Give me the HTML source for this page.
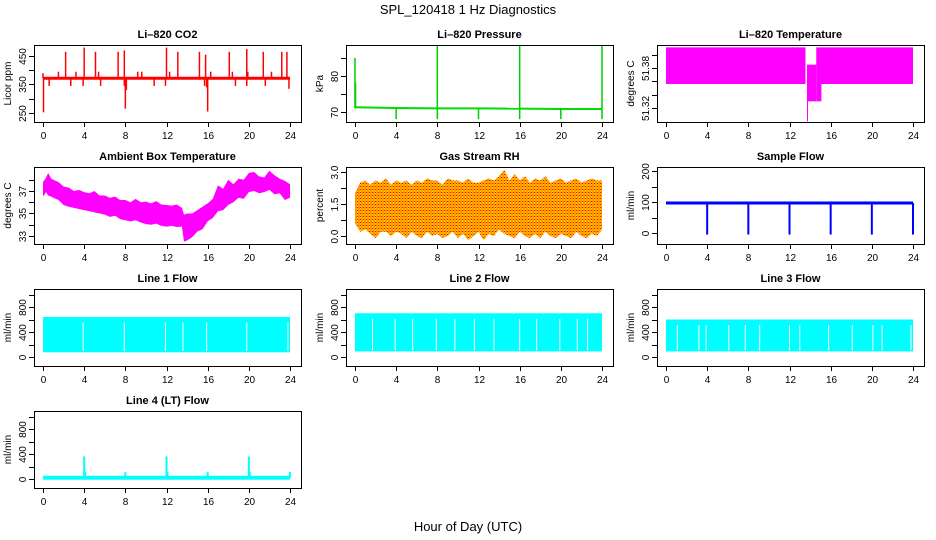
<!DOCTYPE html>
<html><head><meta charset="utf-8"><style>
body{margin:0;background:#fff}
svg{display:block;font-family:"Liberation Sans",sans-serif}
</style></head><body>
<svg id="c" width="936" height="540" viewBox="0 0 936 540">
<defs><pattern id="rhpat" width="3" height="3" patternUnits="userSpaceOnUse"><rect width="3" height="3" fill="#ffcc00"/><rect x="0" y="0" width="1" height="1" fill="#ff0000"/><rect x="1.5" y="1.5" width="1" height="1" fill="#ff0000"/><rect x="1.5" y="0" width="1" height="1" fill="#ff6600"/></pattern></defs>
<text x="468" y="14" text-anchor="middle" font-size="13">SPL_120418  1 Hz Diagnostics</text>
<text x="468" y="531" text-anchor="middle" font-size="13">Hour of Day (UTC)</text>
</svg>
<script>
// ---- data ----
const hourTicks=[0,4,8,12,16,20,24];
const co2Base=372;
const co2SpikeHours=[2.2,4.0,5.1,7.3,7.9,12.0,13.1,15.2,15.8,18.1,19.8,21.4,23.2,23.7,0.0,1.5,3.2,5.4,9.2,9.6,12.3,16.3,18.4,19.9,22.2,0.05,8.0,8.1,16.0,15.9,0.6,2.7,3.9,5.6,7.9,10.8,11.9,15.7,18.7,19.8,21.6,23.9];
const co2SpikeVals=[465,480,465,465,470,480,465,465,455,465,475,465,465,465,390,395,395,395,395,395,395,395,395,395,395,252,265,330,255,340,345,345,345,345,345,345,345,345,345,345,345,335];
const presBaseHours=[0,4,8,12,16,20,24];
const presBaseVals=[71.3,71.1,71.0,71.0,70.9,70.8,70.8];
const presSpikeHours=[0,0.05,8,16,24,4,8,12,16,20,24];
const presSpikeVals=[85,78,88.6,88.6,88.6,68,68,68,68,68,68];
const ltStart=[0,13.7,14.6,14.6];
const ltEnd=[13.55,14.6,24,15.1];
const ltLo=[51.356,51.33,51.356,51.33];
const ltHi=[51.411,51.385,51.411,51.356];
const ltSpikeHour=13.75, ltSpikeVal=51.30;
const ambHours=[0,0.3,0.5,0.8,1,1.5,2,2.5,3,3.5,4,4.5,5,5.5,6,6.5,7,7.5,8,8.5,9,9.5,10,10.5,11,11.5,12,12.5,13,13.5,13.7,14,14.5,15,15.5,16,16.5,17,17.5,18,18.5,19,19.5,20,20.5,21,21.5,22,22.5,23,23.5,24];
const ambUpper=[37.8,38.2,38.6,38.1,38.0,37.8,37.4,37.3,37.0,37.1,36.9,36.8,37.0,36.6,36.6,36.4,36.5,36.2,36.2,36.0,36.3,36.0,36.05,35.9,36.1,35.8,35.75,35.7,35.8,35.5,34.9,35.0,35.0,35.3,35.6,35.9,36.3,37.5,37.2,38.0,37.6,38.1,38.0,38.6,38.7,38.3,38.2,38.8,38.4,38.1,37.9,37.6];
const ambLower=[36.5,36.9,36.6,36.5,36.4,36.2,35.75,35.6,35.5,35.4,35.3,35.2,35.1,35.0,34.9,34.7,34.8,34.5,34.4,34.3,34.4,34.2,34.05,34.0,34.1,33.9,33.83,33.9,33.8,33.83,32.5,32.6,32.9,33.4,33.6,34.3,34.6,35.2,35.3,35.75,36.0,36.4,36.3,36.9,37.0,36.8,36.9,37.1,36.7,36.8,36.2,36.4];
const rhHours=[0,0.5,1,1.5,2,2.5,3,3.5,4,4.5,5,5.5,6,6.5,7,7.5,8,8.5,9,9.5,10,10.5,11,11.5,12,12.5,13,13.5,14,14.5,15,15.5,16,16.5,17,17.5,18,18.5,19,19.5,20,20.5,21,21.5,22,22.5,23,23.5,24];
const rhUpper=[2.0,2.5,2.6,2.4,2.6,2.5,2.7,2.4,2.6,2.5,2.6,2.4,2.6,2.5,2.7,2.6,2.6,2.4,2.7,2.6,2.6,2.5,2.7,2.5,2.5,2.6,2.7,2.6,2.8,3.1,2.6,2.9,2.6,2.8,2.5,2.7,2.6,2.8,2.5,2.6,2.7,2.5,2.6,2.7,2.5,2.6,2.7,2.6,2.6];
const rhLower=[0.6,0.2,0.3,0.1,-0.1,0.2,0.2,0.0,0.2,0.1,-0.1,0.2,0.0,-0.1,0.2,0.0,0.1,-0.1,0.0,0.2,-0.1,0.1,-0.2,0.0,0.2,-0.2,0.1,0.0,0.3,0.1,0.0,-0.1,0.2,0.0,-0.1,0.1,-0.1,0.2,0.0,-0.1,0.1,0.0,-0.1,0.2,0.0,-0.1,0.1,0.0,0.3];
const sfBase=97;
const sfDipHours=[4,8,12,16,20,24];
const sfDipVal=-5;
const l1Lo=75,l1Hi=640;
const l1Gaps=[3.9,7.9,11.9,13.6,15.9,19.8,23.8];
const l2Lo=90,l2Hi=700;
const l2Gaps=[1.7,3.9,5.6,7.9,9.7,11.6,13.5,16.0,17.65,19.9,21.6,22.6];
const l3Lo=90,l3Hi=600;
const l3Gaps=[1.1,3.2,3.9,6.1,7.7,9.1,12.0,13.0,15.8,18.1,20.1,21.0,23.8];
const l4Base=20;
const l4SpikeHours=[4,4.1,8,12,12.1,16,20,20.1,24];
const l4SpikeVals=[360,110,110,360,110,110,360,110,110];

// ---- layout ----
const svg=document.getElementById('c');
const NS='http://www.w3.org/2000/svg';
const colL=[34,346,657], rowT=[45,167,289,411], W=267, H=77;
function el(tag,attrs,parent){const e=document.createElementNS(NS,tag);for(const k in attrs)e.setAttribute(k,attrs[k]);(parent||svg).appendChild(e);return e;}
function panel(c,r,name,title,ylab,ymin,ymax,ticks,labels){
  const g=el('g',{});
  
  
  const x0=colL[c],y0=rowT[r];
  const xs=h=>x0+9+h*(247/24);
  const ys=v=>y0+H-(v-ymin)/(ymax-ymin)*H;
  const t=el('text',{x:x0+W/2,y:y0-7,'text-anchor':'middle','font-size':11,'font-weight':'bold'},g);t.textContent=title;
  
  
  const plot=el('g',{},g);
  const ax=el('g',{stroke:'#000','stroke-width':1,fill:'none'},g);
  el('rect',{x:x0+.5,y:y0+.5,width:W,height:H},ax);
  hourTicks.forEach(h=>{const x=Math.round(xs(h))+.5;el('line',{x1:x,x2:x,y1:y0+H,y2:y0+H+5},ax);
    const tx=el('text',{x:x,y:y0+H+17,'text-anchor':'middle','font-size':10,fill:'#000',stroke:'none'},g);tx.textContent=h;
    
    });
  ticks.forEach((v,i)=>{const y=Math.round(ys(v))+.5;el('line',{x1:x0-5,x2:x0,y1:y,y2:y},ax);
    if(labels[i]!==''){const tx=el('text',{x:0,y:0,'text-anchor':'middle','font-size':10,transform:`translate(${x0-8},${y}) rotate(-90)`},g);tx.textContent=labels[i];
    
    }});
  const yl=el('text',{x:0,y:0,'text-anchor':'middle','font-size':10,transform:`translate(${x0-23},${y0+H/2}) rotate(-90)`},g);yl.textContent=ylab;
  
  
  return {xs,ys,plot};
}
function vline(p,h,v1,v2,col,w,nm){const l=el('line',{x1:p.xs(h),x2:p.xs(h),y1:p.ys(v1),y2:p.ys(v2),stroke:col,'stroke-width':w},p.plot);
  
  }
function hline(p,v,col,w,nm){const l=el('line',{x1:p.xs(0),x2:p.xs(24),y1:p.ys(v),y2:p.ys(v),stroke:col,'stroke-width':w},p.plot);
  
  }
function band(p,hrs,up,lo,fill,nm){let pts=hrs.map((h,i)=>p.xs(h)+','+p.ys(up[i]));for(let i=hrs.length-1;i>=0;i--)pts.push(p.xs(hrs[i])+','+p.ys(lo[i]));
  const e=el('polygon',{points:pts.join(' '),fill:fill},p.plot);
  
  }

// CO2
let p=panel(0,0,'co2','Li\u2013820 CO2','Licor ppm',218,489,[250,300,350,400,450],['250','','350','','450']);
hline(p,co2Base,'#ff0000',3,'co2-baseline');
co2SpikeHours.forEach((h,i)=>vline(p,h,co2Base,co2SpikeVals[i],'#ff0000',1.5,'co2-spike'));
// Pressure
p=panel(1,0,'pressure','Li\u2013820 Pressure','kPa',67.2,88.6,[70,75,80,85],['70','','80','']);
for(let i=0;i<presBaseHours.length-1;i++){const l=el('line',{x1:p.xs(presBaseHours[i]),x2:p.xs(presBaseHours[i+1]),y1:p.ys(presBaseVals[i]),y2:p.ys(presBaseVals[i+1]),stroke:'#00dd00','stroke-width':2},p.plot);
  
  }
presSpikeHours.forEach((h,i)=>vline(p,h,71,presSpikeVals[i],'#00cc00',1.5,'pressure-spike'));
// Li temp
p=panel(2,0,'li-temp','Li\u2013820 Temperature','degrees C',51.299,51.4145,[51.32,51.34,51.36,51.38,51.40],['51.32','','','51.38','']);
ltStart.forEach((s,i)=>{const r=el('rect',{x:p.xs(s),y:p.ys(ltHi[i]),width:p.xs(ltEnd[i])-p.xs(s),height:p.ys(ltLo[i])-p.ys(ltHi[i]),fill:'#ff00ff'},p.plot);
  
  });
vline(p,ltSpikeHour,51.35,ltSpikeVal,'#ff00ff',1,'li-temp-spike');
// Ambient
p=panel(0,1,'ambient','Ambient Box Temperature','degrees C',32.29,39.13,[33,34,35,36,37,38],['33','','35','','37','']);
band(p,ambHours,ambUpper,ambLower,'#ff00ff','ambient-band');
// RH
p=panel(1,1,'rh','Gas Stream RH','percent',-0.375,3.23,[0,0.75,1.5,2.25,3],['0.0','','1.5','','3.0']);
band(p,rhHours,rhUpper,rhLower,'url(#rhpat)','rh-band');
// Sample flow
p=panel(2,1,'sample-flow','Sample Flow','ml/min',-35.5,213,[0,50,100,150,200],['0','','100','','200']);
hline(p,sfBase,'#0000ff',3,'sample-flow-line');
sfDipHours.forEach(h=>vline(p,h,sfBase,sfDipVal,'#0000ff',2,'sample-flow-dip'));
// Line flows
const flowTicks=[0,200,400,600,800,1000], flowLabels=['0','','400','','800',''];
function flowPanel(c,r,name,title,lo,hi,gaps){
  const q=panel(c,r,name,title,'ml/min',-144,1088,flowTicks,flowLabels);
  const b=el('rect',{x:q.xs(0),y:q.ys(hi),width:q.xs(24)-q.xs(0),height:q.ys(lo)-q.ys(hi),fill:'#00ffff'},q.plot);
  
  
  gaps.forEach(h=>vline(q,h,lo+20,hi-90,'#ffffff',1,name+'-gap'));
}
flowPanel(0,2,'line1-flow','Line 1 Flow',l1Lo,l1Hi,l1Gaps);
flowPanel(1,2,'line2-flow','Line 2 Flow',l2Lo,l2Hi,l2Gaps);
flowPanel(2,2,'line3-flow','Line 3 Flow',l3Lo,l3Hi,l3Gaps);
p=panel(0,3,'line4-flow','Line 4 (LT) Flow','ml/min',-144,1088,flowTicks,flowLabels);
hline(p,l4Base,'#00ffff',4,'line4-baseline');
l4SpikeHours.forEach((h,i)=>vline(p,h,l4Base,l4SpikeVals[i],'#00ffff',2,'line4-spike'));
</script>
</body></html>
